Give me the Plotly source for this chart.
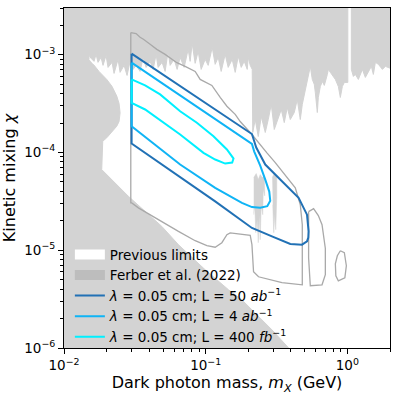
import plotly.graph_objects as go

FONT = "DejaVu Sans"

# region still open after previous searches (drawn white on a grey background)
prev_mass = [0.01502, 0.01502, 0.01552, 0.01629, 0.01684, 0.01739, 0.01826, 0.01886, 0.01981, 0.02046,
             0.02184, 0.02256, 0.02408, 0.02488, 0.02655, 0.02787, 0.02927, 0.03073, 0.03228, 0.03444,
             0.03617, 0.03797, 0.04053, 0.04256, 0.04469, 0.04616, 0.04927, 0.05173, 0.05433, 0.05612,
             0.05989, 0.06289, 0.06604, 0.07048, 0.07521, 0.0777, 0.08027, 0.08429, 0.08851, 0.09294,
             0.0992, 0.1042, 0.1112, 0.1167, 0.1226, 0.1287, 0.1373, 0.1442, 0.1539, 0.1616,
             0.1697, 0.1782, 0.1871, 0.1965, 0.1997, 0.2063, 0.2131, 0.2149, 0.2238, 0.235,
             0.2467, 0.2634, 0.2765, 0.2904, 0.3049, 0.3253, 0.3416, 0.3587, 0.3767, 0.3956,
             0.4221, 0.4432, 0.4654, 0.4808, 0.5302, 0.5476, 0.5657, 0.5845, 0.5941, 0.6138,
             0.6239, 0.6446, 0.6659, 0.6879, 0.7224, 0.7342, 0.7585, 0.7834, 0.8228, 0.8638,
             0.8923, 0.9219, 0.9524, 1.008, 1.008, 1.067, 1.067, 1.103, 1.139, 1.196,
             1.276, 1.340, 1.407, 1.477, 1.526, 1.577, 1.656, 1.768, 1.856, 1.949,
             2.1, 2.1, 0.412, 0.2936, 0.2238, 0.1802, 0.1449, 0.0992, 0.06424, 0.04902,
             0.02848, 0.01846, 0.01877, 0.02003, 0.02357, 0.02447, 0.02488, 0.02447, 0.02357, 0.02184,
             0.02003, 0.01766, 0.01611]
prev_chi = [8.95e-4, 9.84e-4, 9.17e-4, 8.54e-4, 1.007e-3, 8.34e-4, 9.38e-4, 7.77e-4, 9.84e-4, 7.41e-4,
            8.34e-4, 6.43e-4, 8.95e-4, 6.59e-4, 7.77e-4, 6.13e-4, 8.54e-4, 7.07e-4, 7.77e-4, 6.74e-4,
            9.38e-4, 7.41e-4, 8.54e-4, 7.07e-4, 1.007e-3, 7.41e-4, 8.34e-4, 6.74e-4, 1.081e-3, 7.77e-4,
            8.95e-4, 7.07e-4, 9.38e-4, 7.41e-4, 1.133e-3, 8.54e-4, 1.305e-3, 8.15e-4, 1.081e-3, 7.07e-4,
            8.95e-4, 7.77e-4, 1.188e-3, 7.96e-4, 9.38e-4, 6.74e-4, 1.007e-3, 7.41e-4, 8.95e-4, 6.59e-4,
            9.61e-4, 7.41e-4, 8.54e-4, 7.07e-4, 9.38e-4, 7.77e-4, 7.07e-4, 1.60e-4, 2.17e-4, 1.454e-4,
            2.33e-4, 1.60e-4, 2.17e-4, 3.10e-4, 1.716e-4, 2.28e-4, 2.75e-4, 2.02e-4, 2.88e-4, 2.17e-4,
            2.56e-4, 3.48e-4, 2.17e-4, 3.10e-4, 5.85e-4, 7.59e-4, 5.58e-4, 4.96e-4, 4.11e-4, 2.56e-4,
            3.65e-4, 4.73e-4, 5.32e-4, 4.85e-4, 6.28e-4, 7.07e-4, 6.59e-4, 6.13e-4, 5.58e-4, 4.73e-4,
            3.65e-4, 4.73e-4, 5.20e-4, 5.20e-4, 4e-3, 4e-3, 7.07e-4, 5.99e-4, 6.28e-4, 5.58e-4,
            7.07e-4, 5.85e-4, 6.59e-4, 7.59e-4, 6.28e-4, 8.34e-4, 7.96e-4, 7.07e-4, 7.59e-4, 7.41e-4,
            7.07e-4, 9e-7, 9e-7, 1.533e-6, 2.27e-6, 3.11e-6, 3.94e-6, 6.31e-6, 1.139e-5, 1.753e-5,
            3.56e-5, 6.68e-5, 1.302e-4, 1.411e-4, 1.855e-4, 2.07e-4, 2.54e-4, 3.17e-4, 3.77e-4, 4.73e-4,
            5.58e-4, 6.74e-4, 7.96e-4]

# two narrow excluded slivers inside the open region
sliver1_mass = [0.2184, 0.2275, 0.235, 0.2427, 0.2507, 0.2591, 0.2612, 0.2549, 0.2528, 0.2467,
                0.2427, 0.2388, 0.235, 0.2312, 0.2256, 0.222, 0.2184]
sliver1_chi = [5.53e-5, 6.08e-5, 5.28e-5, 5.94e-5, 5.53e-5, 5.80e-5, 3.60e-5, 4.17e-5, 2.31e-5, 2.92e-5,
               1.281e-5, 2.31e-5, 1.194e-5, 2.05e-5, 1.511e-5, 2.92e-5, 2.31e-5]
sliver2_mass = [0.2951, 0.3049, 0.3176, 0.3176, 0.3124, 0.3073, 0.3024, 0.2975]
sliver2_chi = [5.53e-5, 6.08e-5, 5.66e-5, 3.52e-5, 1.622e-5, 2.31e-5, 1.511e-5, 2.92e-5]

# Ferber et al. (2022): main loop and two islands
ferber_mass = [0.02961, 0.03228, 0.03444, 0.03635, 0.04053, 0.0452, 0.05173, 0.06259, 0.07163, 0.0843,
               0.09144, 0.1106, 0.1266, 0.1412, 0.1616, 0.1753, 0.2121, 0.235, 0.2706, 0.3099,
               0.3749, 0.4291, 0.4654, 0.4808, 0.4808, 0.3456, 0.236, 0.2177, 0.2121, 0.2063,
               0.1489, 0.1412, 0.1301, 0.1167, 0.102, 0.0843, 0.06424, 0.04639, 0.0335, 0.03008,
               0.02961, 0.02961]
ferber_chi = [1.680e-3, 1.641e-3, 1.504e-3, 1.435e-3, 1.275e-3, 1.133e-3, 1.007e-3, 8.28e-4, 7.59e-4, 6.74e-4,
              5.58e-4, 4.85e-4, 3.65e-4, 2.97e-4, 2.45e-4, 2.07e-4, 1.526e-4, 1.263e-4, 9.91e-5, 7.88e-5,
              5.49e-5, 4.34e-5, 2.92e-5, 1.825e-5, 4.43e-6, 4.65e-6, 5.35e-6, 6.02e-6, 1.139e-5, 1.418e-5,
              1.501e-5, 1.441e-5, 1.194e-5, 1.073e-5, 1.112e-5, 1.251e-5, 1.558e-5, 2.05e-5, 2.71e-5, 3.05e-5,
              3.05e-5, 1.680e-3]
ferber_isl1_mass = [0.5327, 0.5777, 0.6239, 0.6626, 0.6992, 0.6992, 0.6626, 0.5476, 0.5327, 0.5327]
ferber_isl1_chi = [2.48e-5, 2.66e-5, 2.26e-5, 1.825e-5, 1.043e-5, 5.61e-6, 4.43e-6, 4.33e-6, 8.38e-6, 2.48e-5]
ferber_isl2_mass = [0.8923, 0.9524, 0.9838, 0.9601, 0.8638, 0.8295, 0.8228, 0.8499, 0.8923]
ferber_isl2_chi = [9.88e-6, 9.43e-6, 6.94e-6, 5.23e-6, 4.87e-6, 5.48e-6, 7.27e-6, 8.78e-6, 9.88e-6]

# lambda = 0.05 cm reach contours
c50ab_mass = [0.030, 0.0799, 0.2121, 0.2275, 0.2634, 0.3456, 0.4527, 0.519, 0.5327, 0.53,
              0.519, 0.4785, 0.3956, 0.2936, 0.2121, 0.1167, 0.030, 0.030]
c50ab_chi = [1.024e-3, 3.97e-4, 1.543e-4, 1.122e-4, 7.52e-5, 5.07e-5, 3.43e-5, 2.31e-5, 1.558e-5, 1.343e-5,
             1.231e-5, 1.139e-5, 1.157e-5, 1.385e-5, 1.689e-5, 3.16e-5, 1.234e-4, 1.024e-3]
c4ab_mass = [0.030, 0.2121, 0.2202, 0.2427, 0.2634, 0.2811, 0.2856, 0.2721, 0.2427, 0.2121,
             0.1802, 0.1167, 0.06604, 0.030, 0.030]
c4ab_chi = [8.28e-4, 1.22e-4, 1.021e-4, 7.34e-5, 5.28e-5, 3.98e-5, 3.21e-5, 2.82e-5, 2.72e-5, 2.76e-5,
            3.05e-5, 4.34e-5, 7.52e-5, 1.855e-4, 8.28e-4]
c400fb_mass = [0.030, 0.03737, 0.04769, 0.06604, 0.08666, 0.1135, 0.1412, 0.1572, 0.1539, 0.1373,
               0.1167, 0.0965, 0.06604, 0.04769, 0.03737, 0.030, 0.030]
c400fb_chi = [5.58e-4, 4.85e-4, 3.92e-4, 2.64e-4, 2.01e-4, 1.466e-4, 1.071e-4, 8.66e-5, 7.88e-5, 7.69e-5,
              8.46e-5, 9.91e-5, 1.526e-4, 2.12e-4, 2.75e-4, 3.22e-4, 5.58e-4]

x_ticks = [0.01, 0.1, 1]
x_ticktext = ["10<sup>\u22122</sup>", "10<sup>\u22121</sup>", "10<sup>0</sup>"]
y_ticks = [1e-6, 1e-5, 1e-4, 1e-3]
y_ticktext = ["10<sup>\u22126</sup>", "10<sup>\u22125</sup>", "10<sup>\u22124</sup>", "10<sup>\u22123</sup>"]
x_minor = [m * d for d in (0.01, 0.1) for m in range(2, 10)] + [2]
y_minor = [m * d for d in (1e-6, 1e-5, 1e-4) for m in range(2, 10)] + [2e-3, 3e-3]

GREY = "#d3d3d3"
FERBER = "#a9a9a9"

fig = go.Figure()
fig.add_trace(go.Scatter(x=prev_mass, y=prev_chi, mode="lines", fill="toself", fillcolor="white",
                         line=dict(color=GREY, width=1), showlegend=False, hoverinfo="skip"))
for sx, sy in [(sliver1_mass, sliver1_chi), (sliver2_mass, sliver2_chi)]:
    fig.add_trace(go.Scatter(x=sx, y=sy, mode="lines", fill="toself", fillcolor=GREY,
                             line=dict(color=GREY, width=0.5), showlegend=False, hoverinfo="skip"))

for fx, fy in [(ferber_mass, ferber_chi), (ferber_isl1_mass, ferber_isl1_chi),
               (ferber_isl2_mass, ferber_isl2_chi)]:
    fig.add_trace(go.Scatter(x=fx, y=fy, mode="lines", line=dict(color=FERBER, width=1.3),
                             showlegend=False, hoverinfo="skip"))

# legend patches for the two shaded datasets
fig.add_trace(go.Scatter(x=[None], y=[None], mode="lines", line=dict(color="white", width=10),
                         name="Previous limits"))
fig.add_trace(go.Scatter(x=[None], y=[None], mode="lines", line=dict(color="#bdbdbd", width=10),
                         name="Ferber et al. (2022)"))

contours = [
    (c50ab_mass, c50ab_chi, "#2171b5", "50 <i>ab</i><sup>\u22121</sup>"),
    (c4ab_mass, c4ab_chi, "#0fb4f5", "4 <i>ab</i><sup>\u22121</sup>"),
    (c400fb_mass, c400fb_chi, "#00f0ff", "400 <i>fb</i><sup>\u22121</sup>"),
]
for cx, cy, col, lum in contours:
    fig.add_trace(go.Scatter(x=cx, y=cy, mode="lines", line=dict(color=col, width=2),
                             name=f"<i>\u03bb</i> = 0.05 cm; L = {lum}"))

axis_common = dict(type="log", showline=True, linecolor="black", linewidth=1, mirror=True,
                   ticks="outside", ticklen=5, tickwidth=1, tickcolor="black", automargin=False,
                   showgrid=False, zeroline=False, tickmode="array")

fig.update_layout(
    width=399, height=396,
    margin=dict(l=64, r=9, t=8, b=48),
    plot_bgcolor=GREY, paper_bgcolor="white",
    font=dict(family=FONT, size=13.5, color="black"),
    xaxis=dict(axis_common, range=[-2, 0.30103], tickvals=x_ticks, ticktext=x_ticktext,
               minor=dict(ticks="outside", ticklen=3, tickcolor="black", tickvals=x_minor),
               title=dict(text="Dark photon mass, <i>m</i><sub><i>X</i></sub> (GeV)", standoff=4)),
    yaxis=dict(axis_common, range=[-6, -2.5229], tickvals=y_ticks, ticktext=y_ticktext,
               minor=dict(ticks="outside", ticklen=3, tickcolor="black", tickvals=y_minor),
               title=dict(text="Kinetic mixing <i>\u03c7</i>", standoff=6)),
    legend=dict(x=0.018, y=0.32, xanchor="left", yanchor="top", bgcolor="rgba(0,0,0,0)",
                font=dict(size=13.5), itemwidth=30, tracegroupgap=0),
    showlegend=True,
)

# drop the browser's default page margin so the 399x396 figure fits the window exactly
fig.write_html("out.html", config={"displayModeBar": False},
               post_script="document.body.style.margin = '0';")
